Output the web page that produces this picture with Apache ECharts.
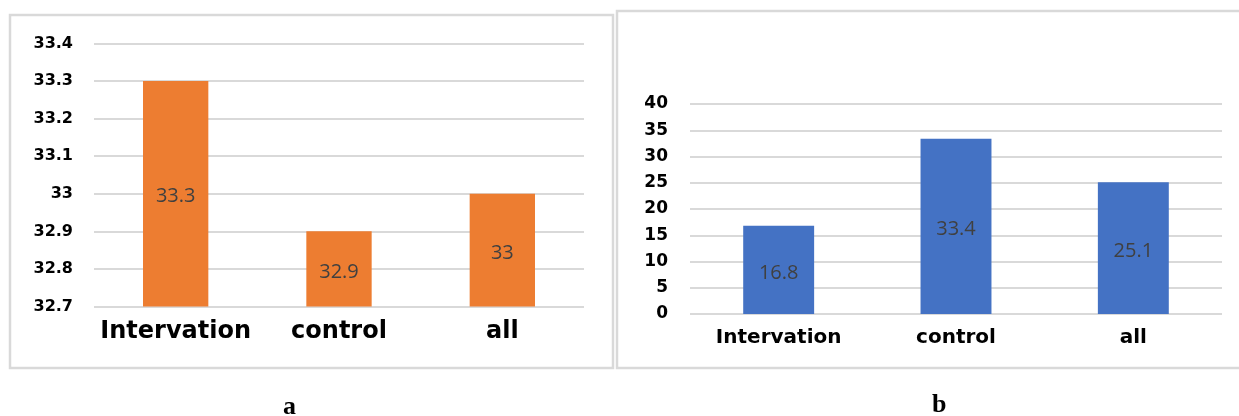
<!DOCTYPE html>
<html>
<head>
<meta charset="utf-8">
<script src="https://cdn.jsdelivr.net/npm/echarts@6/dist/echarts.min.js"></script>
<style>
  html, body { margin: 0; padding: 0; background: #ffffff; }
  #chart { width: 1239px; height: 416px; }
</style>
</head>
<body>
<div id="chart"></div>
<script>
// Panel a: mean values per group
const categoriesA = ['Intervation', 'control', 'all'];
const valuesA = [33.3, 32.9, 33];

// Panel b: percentage values per group
const categoriesB = ['Intervation', 'control', 'all'];
const valuesB = [16.8, 33.4, 25.1];

const panelLabels = ['a', 'b'];

const axisFont = '"DejaVu Sans", sans-serif';
const valueFont = '"Open Sans", "Noto Sans", sans-serif';
const gridColor = '#d9d9d9';

const chart = echarts.init(document.getElementById('chart'), null, { renderer: 'canvas' });

chart.setOption({
  animation: false,
  backgroundColor: '#ffffff',
  graphic: [
    { type: 'rect', shape: { x: 10, y: 15, width: 603, height: 353 },
      style: { fill: 'none', stroke: '#d9d9d9', lineWidth: 2.5 } },
    { type: 'rect', shape: { x: 617, y: 11, width: 630, height: 357 },
      style: { fill: 'none', stroke: '#d9d9d9', lineWidth: 2.5 } },
    { type: 'text', left: 283, top: 394,
      style: { text: panelLabels[0], font: 'bold 26px "Liberation Serif", serif', fill: '#000' } },
    { type: 'text', left: 932, top: 392,
      style: { text: panelLabels[1], font: 'bold 26px "Liberation Serif", serif', fill: '#000' } }
  ],
  grid: [
    { left: 94, right: 655, top: 43.5, bottom: 109.5 },
    { left: 690, right: 17, top: 104, bottom: 102 }
  ],
  xAxis: [
    { type: 'category', gridIndex: 0, data: categoriesA,
      axisLine: { show: false }, axisTick: { show: false },
      axisLabel: { interval: 0, margin: 13, fontFamily: axisFont, fontWeight: 'bold', fontSize: 24, color: '#000' } },
    { type: 'category', gridIndex: 1, data: categoriesB,
      axisLine: { show: false }, axisTick: { show: false },
      axisLabel: { interval: 0, margin: 14, fontFamily: axisFont, fontWeight: 'bold', fontSize: 20, color: '#000' } }
  ],
  yAxis: [
    { type: 'value', gridIndex: 0, min: 32.7, max: 33.4, interval: 0.1,
      axisLine: { show: false }, axisTick: { show: false },
      axisLabel: { margin: 21, fontFamily: axisFont, fontWeight: 'bold', fontSize: 16, color: '#000',
        formatter: v => String(Math.round(v * 10) / 10) },
      splitLine: { lineStyle: { color: gridColor, width: 2 } } },
    { type: 'value', gridIndex: 1, min: 0, max: 40, interval: 5,
      axisLine: { show: false }, axisTick: { show: false },
      axisLabel: { margin: 22, fontFamily: axisFont, fontWeight: 'bold', fontSize: 17, color: '#000' },
      splitLine: { lineStyle: { color: gridColor, width: 2 } } }
  ],
  series: [
    { type: 'bar', xAxisIndex: 0, yAxisIndex: 0, data: valuesA, barWidth: '40%',
      itemStyle: { color: '#ED7D31' },
      label: { show: true, position: 'inside', offset: [0, 3], fontFamily: valueFont, fontSize: 20, color: '#404040',
        formatter: p => String(p.value) } },
    { type: 'bar', xAxisIndex: 1, yAxisIndex: 1, data: valuesB, barWidth: '40%',
      itemStyle: { color: '#4472C4' },
      label: { show: true, position: 'inside', offset: [0, 3], fontFamily: valueFont, fontSize: 20, color: '#404040',
        formatter: p => String(p.value) } }
  ]
});
</script>
</body>
</html>
